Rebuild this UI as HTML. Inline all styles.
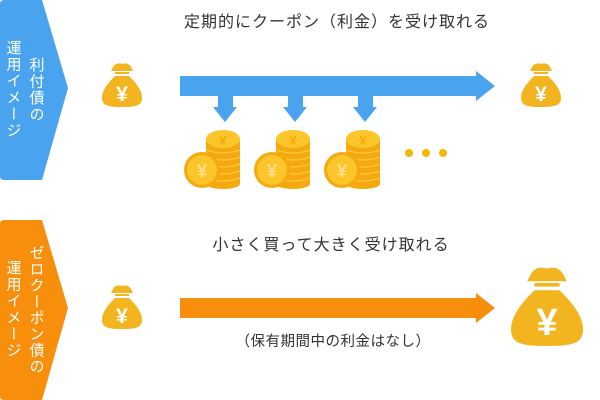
<!DOCTYPE html>
<html><head><meta charset="utf-8"><style>
html,body{margin:0;padding:0;background:#fff;}
svg{display:block;}
text{font-family:"Liberation Sans","Noto Sans CJK JP",sans-serif;}
</style></head><body>
<svg width="600" height="400" viewBox="0 0 600 400" xmlns="http://www.w3.org/2000/svg">
<defs>
<g id="bag">
  <path d="M11,5 Q14,0 20,2 Q26,0 29,5 L31,9 L9,9 Z" fill="#f2b51f"/>
  <rect x="13" y="10" width="14" height="2" fill="#f2b51f"/>
  <path d="M13,14 L27,14 C34,21 40,28 40,36 C40,44 33,45 20,45 C7,45 0,44 0,36 C0,28 6,21 13,14 Z" fill="#f2b51f"/>
  <text x="20" y="39" font-size="21" font-weight="bold" fill="#fff" text-anchor="middle">¥</text>
</g>
<g id="coins">
  <rect x="4" y="8" width="34" height="46" fill="#f5a90f"/>
  <ellipse cx="21" cy="54" rx="17" ry="5" fill="#f5a90f"/>
  <g stroke="#ffd04a" stroke-width="1" fill="none">
    <path d="M4,20 Q21,26 38,20"/><path d="M4,27 Q21,33 38,27"/><path d="M4,34 Q21,40 38,34"/><path d="M4,41 Q21,47 38,41"/><path d="M4,48 Q21,54 38,48"/>
  </g>
  <ellipse cx="21" cy="9" rx="17" ry="9" fill="#fcc52a"/>
  <text x="21" y="15" font-size="13" font-weight="bold" fill="#f5a90f" text-anchor="middle">¥</text>
  <circle cx="0" cy="40" r="18" fill="#f5a90f"/>
  <circle cx="0" cy="40" r="15" fill="#fcc52a"/>
  <text x="0" y="47" font-size="18" font-weight="bold" fill="#ffe08a" text-anchor="middle">¥</text>
</g>
</defs>

<!-- blue tab -->
<path d="M4,0 L42,0 L68,88 L42,180 L4,180 Q0,180 0,176 L0,4 Q0,0 4,0 Z" fill="#4aa3ef"/>
<text font-size="15" fill="#fff" writing-mode="tb" x="36" y="57" letter-spacing="1.5">利付債の</text>
<text font-size="15" fill="#fff" writing-mode="tb" x="13" y="40" letter-spacing="1.5">運用イメージ</text>

<!-- orange tab -->
<path d="M4,220 L42,220 L68,308 L42,400 L4,400 Q0,400 0,396 L0,224 Q0,220 4,220 Z" fill="#f78f0c"/>
<text font-size="15" fill="#fff" writing-mode="tb" x="36" y="245" letter-spacing="1.2">ゼロクーポン債の</text>
<text font-size="15" fill="#fff" writing-mode="tb" x="13" y="260" letter-spacing="1.5">運用イメージ</text>

<text x="337" y="27" font-size="16" fill="#333" text-anchor="middle" letter-spacing="1">定期的にクーポン（利金）を受け取れる</text>

<!-- blue arrow -->
<path d="M180,76 L476,76 L476,71 L495,86 L476,101 L476,96 L180,96 Z" fill="#4aa3ef"/>
<g fill="#4aa3ef">
  <path d="M218,96 L233,96 L233,107 L237,107 L225,122 L213,107 L218,107 Z"/>
  <path d="M288,96 L303,96 L303,107 L307,107 L295,122 L283,107 L288,107 Z"/>
  <path d="M358,96 L373,96 L373,107 L377,107 L365,122 L353,107 L358,107 Z"/>
</g>
<use href="#coins" transform="translate(202,130)"/>
<use href="#coins" transform="translate(272,130)"/>
<use href="#coins" transform="translate(342,130)"/>
<circle cx="409" cy="153" r="4" fill="#f5b800"/>
<circle cx="426" cy="153" r="4" fill="#f5b800"/>
<circle cx="443" cy="153" r="4" fill="#f5b800"/>

<use href="#bag" transform="translate(102,62)"/>
<use href="#bag" transform="translate(521,62)"/>

<text x="331" y="250" font-size="16" fill="#333" text-anchor="middle" letter-spacing="1">小さく買って大きく受け取れる</text>
<path d="M180,298 L476,298 L476,293 L495,308 L476,323 L476,318 L180,318 Z" fill="#f78f0c"/>
<text x="333" y="346" font-size="14.5" fill="#333" text-anchor="middle" letter-spacing="0.5">（保有期間中の利金はなし）</text>

<use href="#bag" transform="translate(102,284)"/>
<use href="#bag" transform="translate(511,265) scale(1.8)"/>
</svg>
</body></html>
